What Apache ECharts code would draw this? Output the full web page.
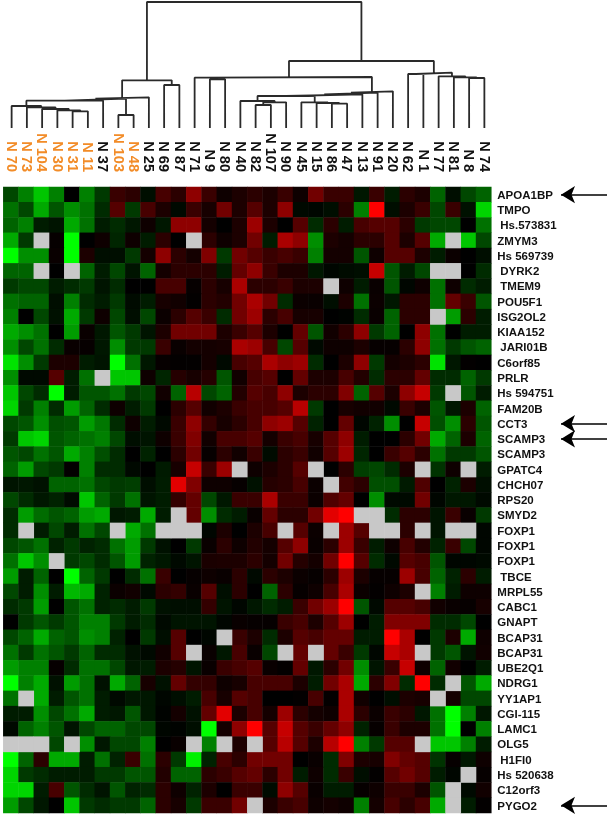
<!DOCTYPE html>
<html>
<head>
<meta charset="utf-8">
<style>
html, body { margin: 0; padding: 0; background: #fff; }
#chart { width: 608px; height: 816px; }
</style>
</head>
<body>
<div id="chart"></div>
<script src="https://cdn.jsdelivr.net/npm/echarts@6/dist/echarts.min.js"></script>
<script>
const samples = ['N 70','N 73','N 104','N 30','N 31','N 11','N 37','N 103','N 48','N 25','N 69','N 87','N 71','N 9','N 80','N 40',
	'N 82','N 107','N 90','N 45','N 15','N 86','N 47','N 13','N 91','N 20','N 62','N 1','N 77','N 81','N 8','N 74'];
const orangeSamples = 9; // first ones, except N 37
const genes = ['APOA1BP','TMPO','Hs.573831','ZMYM3','Hs 569739','DYRK2','TMEM9','POU5F1','ISG2OL2','KIAA152','JARI01B','C6orf85','PRLR','Hs 594751',
	'FAM20B','CCT3','SCAMP3','SCAMP3','GPATC4','CHCH07','RPS20','SMYD2','FOXP1','FOXP1','FOXP1','TBCE','MRPL55','CABC1','GNAPT','BCAP31','BCAP31',
	'UBE2Q1','NDRG1','YY1AP1','CGI-115','LAMC1','OLG5','H1FI0','Hs 520638','C12orf3','PYGO2'];
const arrowRows = [0, 15, 16, 40];

// green (-10) .. black .. red (+10), x = missing (grey)
const x = null;
const cells = [
	[-2.5,-4.5,-7,-4.5,0,-4.5,-2,2,1.5,-.5,2.5,1.5,5,2,.5,1,1.5,1,2,.5,4,2,2,-.8,2,-1,1.5,1,-3.5,-.5,-2.5,-3.5],
	[-4,-2.5,-6,-3,-5,-4,-1.5,3,-2,2.5,1,-.3,2,.8,4,1,3,1,5,-.3,-.2,-.5,1.5,-4.5,10,-.5,1,2,-2.5,2,-.6,-7.5],
	[-3.5,-4.5,-1,-.7,-6,-4,-1,-1.5,-.8,.5,-.8,5,5,.7,0,1,5.5,1,0,3,-1.5,1.5,-1,2.5,3,3,1.5,-2,-2.5,-2.5,0,-4],
	[-6,-2,x,.2,-10,0,.5,-1.3,.5,-1,1.5,0,x,1.5,.5,1,4,-1,6,5,-5,1,.7,1.5,1.5,3,1,3,-6,x,-7,-2.5],
	[-10,-5,-5,.3,-10,1,-.5,-.5,-2,.7,5,1.5,.7,4.5,-2,4,3,2,2.5,2,-4.5,.7,.7,-3,.5,3,3,1,-1,.4,0,-.5],
	[-3.5,-3.5,x,0,x,-3.5,-1,-2.5,-.7,-3.5,.7,1.5,1.5,1.5,-1,3.5,5,2,1,1,-.8,-.2,-.4,-.5,7,-3,-1,-2.5,x,x,0,-1.5],
	[-2,-2.5,-2.5,-1,-1.5,-2,-.7,-1.5,0,0,2.5,2.5,.2,1.5,.8,6,1.5,1.5,2,1,1,x,.5,-1,.3,-3,-.2,.5,-4,.5,-1.5,-1],
	[-4,-3.5,-3.5,-.5,-4.5,-1.5,-1,-2,-.4,-1,.8,.6,.1,1.5,1.2,4,6,4,-1.5,.4,.3,-.5,1,-4,.4,-.8,1.5,1.5,-4,3.5,2,-3],
	[-4.5,0,-2.5,-.6,-6,-2,.5,-2.5,-.5,-2.5,.4,1.5,3,2,-1.5,4,5.5,1.5,2.5,.8,.8,0,-.1,-1.5,.3,-3.5,1.5,1.5,x,-5.5,1.5,-1],
	[-6,-5,-4,0,-5.5,.3,-.8,-3,-2,-.7,1,4,4,4,1,2,3,1,0,3.5,-3,.6,1.5,5,-2,-3.5,0,5,-4,0,-1,-1],
	[-5,-2.5,-4,-1.5,.3,.2,-.8,-5,-2,-2,2,.3,.7,.7,.8,6,5.5,2.5,-2.5,3,-.3,.5,.5,1,.2,.2,1.5,5,-4,-2,-3,-3.5],
	[-8,-5,-2,1,1,-1,-.7,-9,-4,-.8,.2,.1,.1,.7,-.3,2.5,3,6,5,5.5,-1.5,0,1,5,-2,.7,1,1.5,-8,-.8,.1,0],
	[-5,-.3,-.3,3,-1,-4,x,-7,-7,.5,-1.3,1.3,.8,1.3,-3,.6,2.5,3,0,3.5,1,1,2.5,1.2,-1.5,1.5,1.5,3.5,-1.5,-1.5,-3.5,-2],
	[-7,-2.5,-1.5,-10,-1,-3,-3,-4,-2,-2.5,.6,-3.5,6.5,-2.5,-3.5,1.2,3,2.5,5,1,1.5,1.5,4.5,-3.5,3,1,5,7,-2,x,-3,-1],
	[-7.5,-2,-4.5,-1.5,-5.5,-3.5,-1.5,.5,-1,-2,0,1.5,3,.6,1,2,2.5,2.5,3,6.5,-2,0,.8,.6,.6,-.3,2,1,-3,-.8,1,-3.5],
	[-2.5,-3,-5,-2.8,-3,-5.5,-4.2,-1.5,.5,-1,-.3,2,5,1.8,.8,1.5,2.5,5,5.5,3,-1.2,0,3.5,-.2,-1.2,-5,0,7,-2.8,-5,1.5,-3],
	[-2,-7,-7.5,-3,-3.5,-4,-4.5,-2.5,-.5,-.7,.5,2,4.5,.6,2.5,2.5,3,.7,2,2.5,.8,3,5,-1,0,0,1.5,4,-6,-3.5,1,-3.5],
	[-3,-2.5,-4,-3,-6,-4.5,-2.8,-1.5,0,-1.2,0,1.5,4,.2,1.5,.6,2,-.4,1.5,2,.6,3,5.5,-1.3,0,2,3,1.5,-4,-2,-2,-3],
	[-3.5,-5.5,-2.5,-2,.1,-4.5,-1.5,-1.5,-.3,0,-.9,.8,7,2,5.5,x,.5,1,1.5,3,x,0,1.5,-2.2,-2.5,-1.5,1,x,-1.8,.5,x,-1],
	[-.7,-.8,-.6,-3.5,-3.5,-4,-2.5,-2,-2.2,-.5,-1,8,4.5,.5,.5,.2,-.6,1.3,1.5,2.5,.4,x,2.3,1.5,-2.8,-2.8,-.9,2.8,0,-1.2,1,-.5],
	[-2.5,-1.5,-.8,-1.2,-.4,-7,-3.5,-2,-4,-.7,-1,1.8,3.5,-2.5,-.8,2,2,6,2,2,.4,2.8,3.5,0,-5,-.3,-.3,4,-.2,-.8,-.8,-.3],
	[-1.5,-5.5,-3.8,-3,-3.5,-5.5,-6,-.8,-1,-6,-1,x,3.5,-5,-1.5,-1,.3,3.5,1.5,1.5,4,8,10,x,x,-1.5,1.5,1.5,-.7,2,.3,-2],
	[-1.5,x,-1,-2.5,-1,-4,-2.5,x,-6,-4,x,x,x,-.2,1,0,1,2.5,x,3,.4,x,5.5,3,x,x,1.5,x,-.7,x,x,-.2],
	[-2.5,-3,-4,-1.2,-2,-1.2,-1.5,-4,-5.5,-2,-.6,0,-2,.3,1.5,.5,1.2,.7,3,5,.3,1.5,5.5,2,-1,.5,2.5,1.2,-1.2,2,-2.5,-.2],
	[-4,-7,-5,x,-2,-2.5,-1.5,-3,-5.5,-1.2,-.8,-.3,-.7,.9,1,1,1.5,.7,4,1.3,.7,4,10,3,-1.5,-.3,3,2.5,-3,-.2,-.2,-.3],
	[-5.5,-1,-3.5,0,-10,-3.5,-2,0,-1.5,-4,2,0,.2,.5,.3,1.5,-.3,1.5,1,.4,.2,1.5,5.5,1,.2,.2,5.5,2.5,-3.5,-1.2,1.5,-1],
	[-2.5,-1,-5,-1,-6.5,-6,-1.2,.4,.6,-.3,1.5,1.8,.3,3,-.5,1.5,0,-3.5,1.5,.2,.5,2.5,6,.4,.1,.5,1,x,-4.5,-1,.5,.5],
	[-1.5,-2,-5.5,0,-3,-4,-1.2,-1.5,-1,-2,-.6,-.5,-.5,1.8,-.7,-.2,-.8,-1.5,-1,2,4,5.5,10,-3,-.3,3,3,2.5,.6,.3,.2,.8],
	[0,-2,-3,-2,-3,-4.5,-4.5,-2,-1,-1.5,-.3,-.7,-.7,-.7,-.2,.3,.2,.2,2,2.5,1,3,5.5,0,-1,4.5,4.5,4.5,-1.5,-1.5,-2.5,0],
	[-2.5,-3.5,-6,-3.5,-3,-5,-4.5,-1.2,0,-2,-.5,3,0,-.2,x,2,1,-1.5,1,3,2.5,3.5,3.5,-1,-1,10,6,0,-2,1,-6,.5],
	[-4,-2,-4,-3,-2,-3.5,-1.5,-1.5,-.6,-.3,.6,3,x,.3,-.8,2.5,.3,-2.5,x,3.5,x,3.5,2,-2,-.2,7,6,x,-2,-3,-.7,.6],
	[-5.5,-4.5,-4.5,.2,-1.5,-4,-4,-2.5,-.8,-1,1,1.3,-.7,.3,2,2.5,3,.3,.1,3.5,-.8,1.5,4,-5,-.7,2,7,.5,-3.5,.6,0,-1],
	[-10,-4.5,-6,-.6,-5.5,-4,-.6,-6,-3.5,.8,-.6,3.5,1.8,1.8,.5,.8,2.5,2.5,2.5,1,-1,4,6,-6,1.5,4.5,-1.5,9,-1.5,x,-3,-6],
	[-4,x,-6,-1,-3,-4,-1,-.3,-.8,-.8,-.2,-.5,-1,2.5,.8,3,2.5,0,0,.1,2.5,.1,6,.6,0,-.5,1,.8,x,.7,-2.5,-2.5],
	[-1,-1,-5,-2.5,-4,-6,-1,-.8,-3,-.8,-.1,.7,-.6,3.5,8,1,2.5,.7,5.5,1.5,.7,.5,6,1.5,.4,2,1.5,-.8,-4,-10,-4.5,-.8],
	[-.3,-3.5,-4.5,-3,-.7,-2.5,-3.5,-3.5,-2.5,-2.5,-.2,-.1,-.5,-10,.7,5,10,3,7,3,2,3.5,5,-1.2,.2,2,1,1,-4,-10,0,-4.5],
	[x,x,x,-2.5,x,-5,-.8,-2.5,-2.5,-4.5,0,.3,x,-4.5,x,1,x,3,6.5,3,1,6.5,10,-4.5,-2,3,3,x,-7,-7,-4.5,-1],
	[-10,-3.5,1.5,-6,-6,-1,-4,-1.2,2,-4,1.5,-2,-8.5,-1.2,2.5,1.5,4,4,4,0,.3,-1.5,4.5,1,.8,4.5,3.5,3,-1.8,.2,-.8,.5],
	[-7.5,-2,-1.5,-1,-1,-1,-2,-2,-3,-3,1.2,-3.5,-3.5,1.5,2,3,3.5,1.5,4,-1,.5,-1.5,2,-.5,.1,3,4,3,-1,-.2,x,.2],
	[-7.5,-7.5,-1,2.5,-3,-1.5,-.7,-3,-1.2,-1.5,1.5,.5,-1.2,1,0,2,2,-.4,5,3,.3,-1,-1,.2,.5,2,2,1,-3,x,-.3,.6],
	[-5.5,-2.5,-.8,0,-7,-2,-1.5,-2,-2,-3.5,1.5,.8,-2,2,2,4,x,1,2,2.5,.5,.7,.5,-4.5,.7,2.5,1.5,2.5,-6,x,-1,.1]
];

// dendrogram merges: leaf index, or 100+k for merge k
const mergeLeft  = [4,3,2,1,0,104,7,105,107,10,108,13,12,16,113,15,21,20,19,115,119,120,121,112,26,30,29,28,124,123,110];
const mergeRight = [5,100,101,102,103,6,8,106,9,11,109,14,111,17,18,114,22,116,117,118,23,24,25,122,27,31,125,126,127,128,129];
const mergeHeight = [16.7,17.7,19,20.7,22,27.3,13,29.3,30.7,43,47.7,48.7,50.3,23,25.7,27,24.3,25,25.7,32,33.7,35.3,36.7,51,54,50,50.7,51.7,55.3,67,126];

const fontName = '"Liberation Sans", Arial, sans-serif';
const indented = { 'Hs.573831': 1, 'DYRK2': 1, 'TMEM9': 1, 'TBCE': 1, 'JARI01B': 1, 'H1FI0': 1 };

function buildDendro() {
	const mid = [];
	const hgt = [];
	const pts = [];
	const place = function (n) {
		return n >= 100 ? [mid[n - 100], hgt[n - 100]] : [n + 0.5, 0];
	};
	mergeHeight.forEach(function (h, k) {
		const a = place(mergeLeft[k]);
		const b = place(mergeRight[k]);
		pts.push([a[0], a[1]], [a[0], h], [b[0], h], [b[0], b[1]], [b[0], null]);
		mid.push((a[0] + b[0]) / 2);
		hgt.push(h);
	});
	return pts;
}

const heatData = [];
const missingData = [];
cells.forEach(function (row, r) {
	row.forEach(function (v, c) {
		if (v === null) missingData.push([c, r, 1]);
		else heatData.push([c, r, v]);
	});
});

const myChart = echarts.init(document.getElementById('chart'), null, { renderer: 'canvas' });
myChart.setOption({
	animation: false,
	backgroundColor: '#fff',
	grid: [
		{ left: 3.3, top: 187, width: 488, height: 626 },
		{ left: 4, top: 2, width: 488, height: 126 },
		{ left: 561, top: 187, width: 46, height: 626 }
	],
	xAxis: [
		{
			type: 'category', gridIndex: 0, position: 'top', data: samples,
			axisLine: { show: false }, axisTick: { show: false }, splitLine: { show: false },
			axisLabel: {
				interval: 0, rotate: 90, margin: 15, hideOverlap: false,
				fontFamily: fontName, fontWeight: 'bold', fontSize: 14.5,
				color: function (v, i) {
					return (i < orangeSamples && v !== 'N 37') ? '#f28c28' : '#111';
				}
			}
		},
		{ type: 'value', gridIndex: 1, min: 0, max: 32, show: false },
		{ type: 'value', gridIndex: 2, min: 0, max: 1, show: false }
	],
	yAxis: [
		{
			type: 'category', gridIndex: 0, position: 'right', inverse: true, data: genes,
			axisLine: { show: false }, axisTick: { show: false }, splitLine: { show: false },
			axisLabel: {
				interval: 0, margin: 6, align: 'left', hideOverlap: false, padding: [2, 0, 0, 0],
				fontFamily: fontName, fontWeight: 'bold', fontSize: 11.5, color: '#111',
				formatter: function (v) {
					return indented[v] ? '{i|' + v + '}' : v;
				},
				rich: { i: { padding: [0, 0, 0, 3], fontFamily: fontName, fontWeight: 'bold', fontSize: 11.5, color: '#111' } }
			}
		},
		{ type: 'value', gridIndex: 1, min: 0, max: 126, show: false },
		{ type: 'category', gridIndex: 2, inverse: true, data: genes, show: false }
	],
	visualMap: [
		{ show: false, seriesIndex: 0, dimension: 2, min: -9, max: 9, inRange: { color: ['#00ff00', '#000000', '#ff0000'] } },
		{ show: false, seriesIndex: 1, dimension: 2, min: 0, max: 1, inRange: { color: ['#c8c8c8', '#c8c8c8'] } }
	],
	series: [
		{ type: 'heatmap', xAxisIndex: 0, yAxisIndex: 0, data: heatData, silent: true, progressive: 0 },
		{ type: 'heatmap', xAxisIndex: 0, yAxisIndex: 0, data: missingData, silent: true, progressive: 0 },
		{
			type: 'line', xAxisIndex: 1, yAxisIndex: 1, data: buildDendro(), showSymbol: false, silent: true,
			lineStyle: { color: '#2a2a2a', width: 1.8 }
		},
		{
			type: 'scatter', xAxisIndex: 2, yAxisIndex: 2, data: [], silent: true,
			markLine: {
				silent: true, animation: false,
				symbol: ['none', 'arrow'], symbolSize: [13, 14],
				label: { show: false },
				lineStyle: { color: '#000', width: 1.5, type: 'solid' },
				data: arrowRows.map(function (r) {
					return [{ coord: [1, r] }, { coord: [0, r] }];
				})
			}
		}
	]
});
</script>
</body>
</html>
